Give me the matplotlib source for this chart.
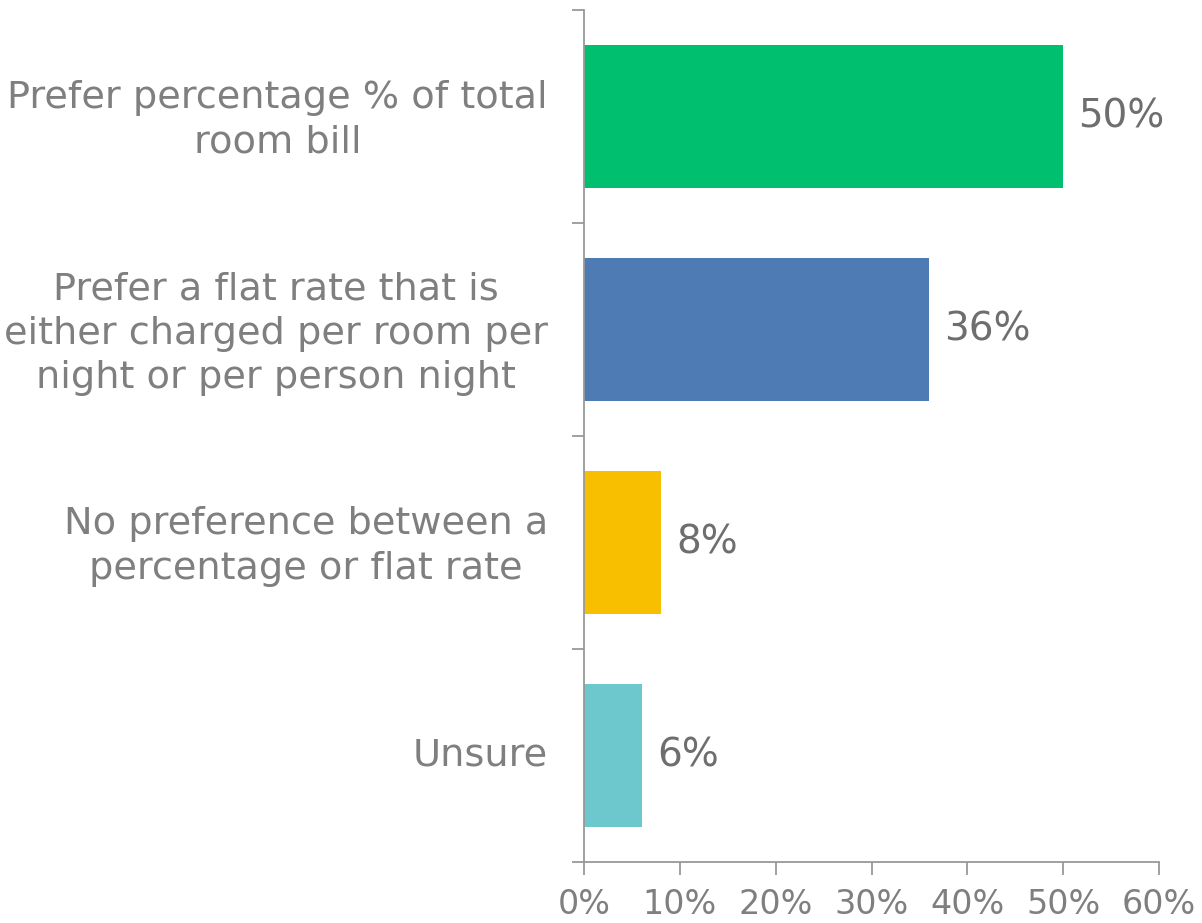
import matplotlib
matplotlib.use("Agg")
import matplotlib.pyplot as plt
from matplotlib.transforms import ScaledTranslation

categories = [
    "Prefer percentage % of total\nroom bill",
    "Prefer a flat rate that is\neither charged per room per\nnight or per person night",
    "No preference between a\npercentage or flat rate",
    "Unsure",
]
values = [50, 36, 8, 6]
value_labels = ["50%", "36%", "8%", "6%"]
colors = ["#00BF6F", "#4F7BB5", "#F8BE00", "#6CC8CD"]
x_ticks = [0, 10, 20, 30, 40, 50, 60]
x_tick_labels = ["0%", "10%", "20%", "30%", "40%", "50%", "60%"]

plt.rcParams["font.family"] = ["DejaVu Sans"]
label_color = "#7F7F7F"
value_color = "#6E6E6E"
spine_color = "#999999"

fig = plt.figure(figsize=(12.02, 9.23), dpi=100)
ax = fig.add_axes([584 / 1202, 61 / 923, 575 / 1202, 852 / 923])

y = list(range(len(categories)))
ax.barh(y, values, height=0.667, color=colors, zorder=2)

for yi, v, lab in zip(y, values, value_labels):
    ax.annotate(lab, (v, yi), xytext=(11, 0), textcoords="offset points",
                ha="left", va="center", fontsize=28, color=value_color)

ax.set_xlim(0, 60)
ax.set_ylim(len(categories) - 0.5, -0.5)
ax.set_xticks(x_ticks)
ax.set_xticklabels(x_tick_labels, fontsize=24, color=label_color)

# category ticks sit on the boundaries between bars
ax.set_yticks([i - 0.5 for i in range(len(categories) + 1)])
ax.set_yticklabels([])
ax.set_yticks(y, minor=True)
ax.set_yticklabels(categories, minor=True, fontsize=27.5, color=label_color,
                   multialignment="center", linespacing=1.3)
ax.tick_params(axis="y", which="minor", length=0, pad=26)
ax.tick_params(axis="y", which="major", length=9, width=1.3, color=spine_color)
ax.tick_params(axis="x", length=9, width=1.3, color=spine_color, pad=10)

# nudge the category labels up a little so each block centres on its bar
nudge = ScaledTranslation(0, 4 / 100, fig.dpi_scale_trans)
for lbl in ax.get_yticklabels(minor=True):
    lbl.set_transform(lbl.get_transform() + nudge)

for s in ["top", "right"]:
    ax.spines[s].set_visible(False)
for s in ["left", "bottom"]:
    ax.spines[s].set_color(spine_color)
    ax.spines[s].set_linewidth(1.3)

fig.savefig("out.png", dpi=100, facecolor="white")
